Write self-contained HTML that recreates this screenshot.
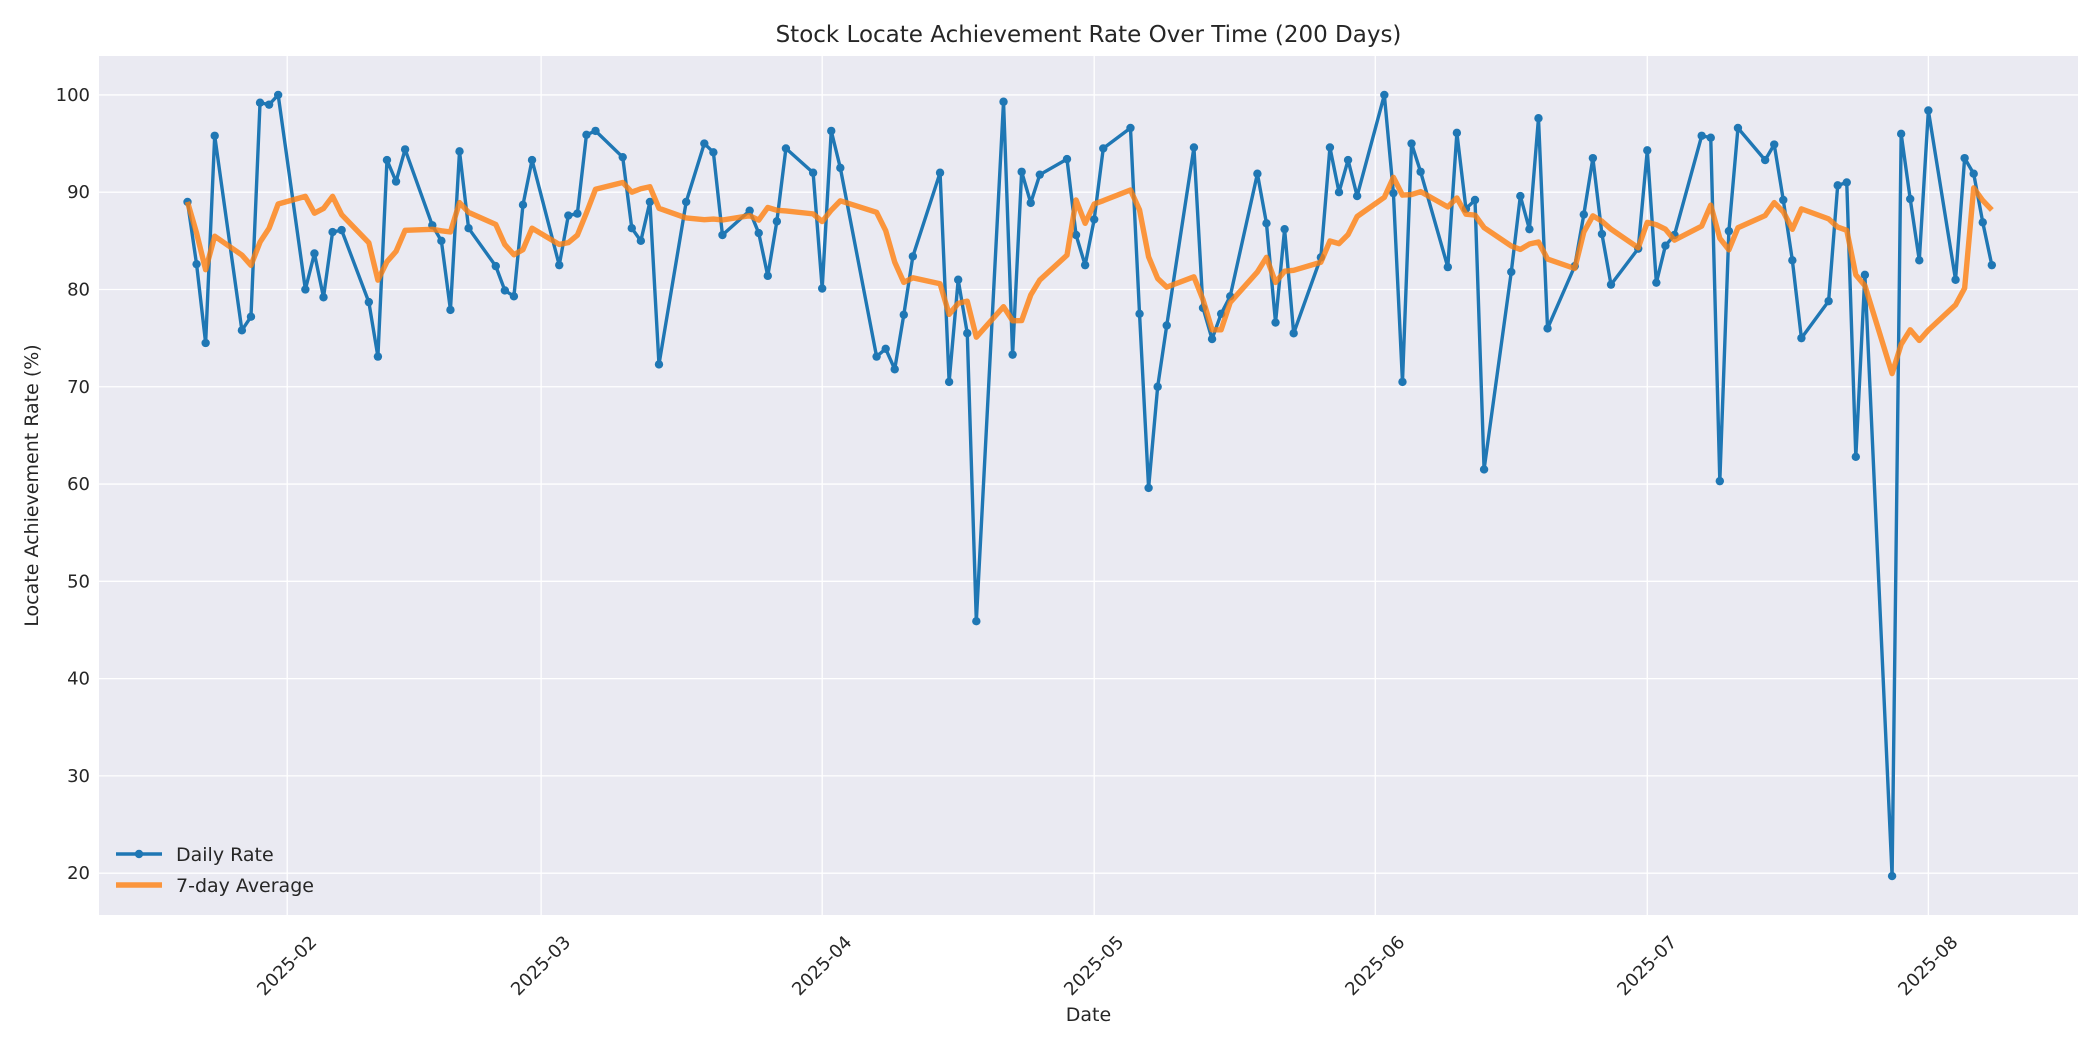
<!DOCTYPE html>
<html><head><meta charset="utf-8"><style>
html,body{margin:0;padding:0;background:#fff;}
svg{display:block;font-family:"DejaVu Sans","Liberation Sans",sans-serif;}
</style></head><body>
<svg id="chart" width="2100" height="1050" viewBox="0 0 2100 1050" xmlns="http://www.w3.org/2000/svg"></svg>
<script>
// day offsets from 2025-01-21
const dayOffsets = [0,1,2,3,6,7,8,9,10,13,14,15,16,17,20,21,22,23,24,27,28,29,30,31,34,35,36,37,38,41,42,43,44,45,48,49,50,51,52,55,57,58,59,62,63,64,65,66,69,70,71,72,76,77,78,79,80,83,84,85,86,87,90,91,92,93,94,97,98,99,100,101,104,105,106,107,108,111,112,113,114,115,118,119,120,121,122,125,126,127,128,129,132,133,134,135,136,139,140,141,142,143,146,147,148,149,150,153,154,155,156,157,160,161,162,163,164,167,168,169,170,171,174,175,176,177,178,181,182,183,184,185,188,189,190,191,192,195,196,197,198,199];
const dailyRate = [89.0,82.6,74.5,95.8,75.8,77.2,99.2,99.0,100.0,80.0,83.7,79.2,85.9,86.1,78.7,73.1,93.3,91.1,94.4,86.6,85.0,77.9,94.2,86.3,82.4,79.9,79.3,88.7,93.3,82.5,87.6,87.8,95.9,96.3,93.6,86.3,85.0,89.0,72.3,89.0,95.0,94.1,85.6,88.1,85.8,81.4,87.0,94.5,92.0,80.1,96.3,92.5,73.1,73.9,71.8,77.4,83.4,92.0,70.5,81.0,75.5,45.9,99.3,73.3,92.1,88.9,91.8,93.4,85.6,82.5,87.2,94.5,96.6,77.5,59.6,70.0,76.3,94.6,78.1,74.9,77.5,79.3,91.9,86.8,76.6,86.2,75.5,83.3,94.6,90.0,93.3,89.6,100.0,89.9,70.5,95.0,92.1,82.3,96.1,88.3,89.2,61.5,81.8,89.6,86.2,97.6,76.0,82.4,87.7,93.5,85.7,80.5,84.2,94.3,80.7,84.5,85.6,95.8,95.6,60.3,86.0,96.6,93.3,94.9,89.2,83.0,75.0,78.8,90.7,91.0,62.8,81.5,19.7,96.0,89.3,83.0,98.4,81.0,93.5,91.9,86.9,82.5];
const yTicks = [20,30,40,50,60,70,80,90,100];
const xTickLabels = ["2025-02","2025-03","2025-04","2025-05","2025-06","2025-07","2025-08"];
const xTickDays = [11,39,70,100,131,161,192];

const NS="http://www.w3.org/2000/svg";
const svg=document.getElementById('chart');
const L=99,R=2078,T=56,B=915;
const S=2100/1568;
function xs(d){return S*(140+6.77*d);}
const yMin=15.7,yMax=104.0;
function ys(v){return B-(v-yMin)/(yMax-yMin)*(B-T);}
function el(tag,attrs,parent){const e=document.createElementNS(NS,tag);for(const k in attrs)e.setAttribute(k,attrs[k]);(parent||svg).appendChild(e);return e;}

const bg=el('rect',{x:L,y:T,width:R-L,height:B-T,fill:'#eaeaf2'});



const grid=el('g',{stroke:'#ffffff','stroke-width':1.3});


yTicks.forEach(v=>{el('line',{x1:L,x2:R,y1:ys(v),y2:ys(v)},grid);});
xTickDays.forEach(d=>{el('line',{x1:xs(d),x2:xs(d),y1:T,y2:B},grid);});

const yt=el('g',{'font-size':18,fill:'#262626','text-anchor':'end'});


yTicks.forEach(v=>{const t=el('text',{x:L-9,y:ys(v)+6},yt);t.textContent=v;});

const xt=el('g',{'font-size':18,fill:'#262626','text-anchor':'middle'});


xTickDays.forEach((d,i)=>{const x=xs(d),y=966;const t=el('text',{x:x,y:y,'dominant-baseline':'central',transform:`rotate(-45 ${x} ${y})`},xt);t.textContent=xTickLabels[i];});

// rolling 7-row average
const avg=dailyRate.map((v,i)=>{const s=dailyRate.slice(Math.max(0,i-6),i+1);return s.reduce((a,b)=>a+b,0)/s.length;});

const dl=el('polyline',{points:dayOffsets.map((d,i)=>xs(d)+','+ys(dailyRate[i])).join(' '),fill:'none',stroke:'#1f77b4','stroke-width':3.4,'stroke-linejoin':'round'});


const mk=el('g',{fill:'#1f77b4'});


dayOffsets.forEach((d,i)=>{const c=el('circle',{cx:xs(d),cy:ys(dailyRate[i]),r:4.2},mk);

});

const al=el('polyline',{points:dayOffsets.map((d,i)=>xs(d)+','+ys(avg[i])).join(' '),fill:'none',stroke:'#ff7f0e','stroke-opacity':0.8,'stroke-width':5.4,'stroke-linejoin':'round'});



const title=el('text',{x:(L+R)/2,y:42,'font-size':23,'text-anchor':'middle',fill:'#262626'});
title.textContent='Stock Locate Achievement Rate Over Time (200 Days)';


const xl=el('text',{x:(L+R)/2,y:1021,'font-size':19,'text-anchor':'middle',fill:'#262626'});
xl.textContent='Date';


const yl=el('text',{x:0,y:0,'font-size':19,'text-anchor':'middle',fill:'#262626',transform:`translate(38 ${(T+B)/2}) rotate(-90)`});
yl.textContent='Locate Achievement Rate (%)';



const lg=el('g',{'font-size':19,fill:'#262626'});


const e1=el('g',{},lg);


el('line',{x1:116,x2:162,y1:854,y2:854,stroke:'#1f77b4','stroke-width':3.4},e1);
el('circle',{cx:139,cy:854,r:4.2,fill:'#1f77b4'},e1);
el('text',{x:176,y:861},e1).textContent='Daily Rate';
const e2=el('g',{},lg);


el('line',{x1:116,x2:162,y1:885,y2:885,stroke:'#ff7f0e','stroke-opacity':0.8,'stroke-width':5.4},e2);
el('text',{x:176,y:892},e2).textContent='7-day Average';
</script>
</body></html>
